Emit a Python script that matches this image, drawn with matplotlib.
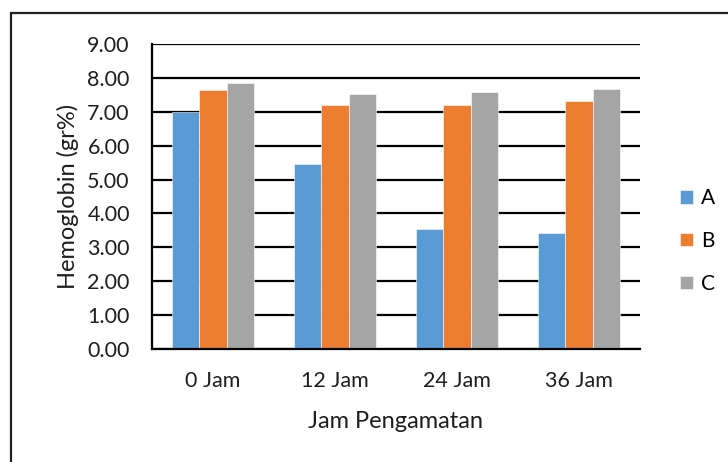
import numpy as np
import matplotlib.pyplot as plt
from matplotlib.patches import Rectangle

# Hemoglobin per observation time, three treatment groups
categories = ["0 Jam", "12 Jam", "24 Jam", "36 Jam"]
series_names = ["A", "B", "C"]
hb_a = [7.00, 5.46, 3.53, 3.42]
hb_b = [7.65, 7.21, 7.21, 7.32]
hb_c = [7.85, 7.51, 7.58, 7.66]
colors = ["#5B9BD5", "#ED7D31", "#A5A5A5"]
yticks = [0, 1, 2, 3, 4, 5, 6, 7, 8, 9]

plt.rcParams['font.family'] = ['Lato', 'DejaVu Sans']
txt = '#1e1e1e'

fig = plt.figure(figsize=(7.28, 4.62), dpi=100)
ax = fig.add_axes([152 / 728, 1 - 349 / 462, 488 / 728, 305 / 462])

x = np.arange(len(categories))
w = 0.222
for i, (vals, name, col) in enumerate(zip([hb_a, hb_b, hb_c], series_names, colors)):
    ax.bar(x + (i - 1) * w, vals, width=w, color=col, label=name,
           edgecolor='white', linewidth=0.4, zorder=3)

ax.set_xlim(-0.5, len(categories) - 0.5)
ax.set_ylim(0, 9)
ax.set_yticks(yticks)
ax.set_yticklabels([f"{v:.2f}" for v in yticks], fontsize=15.5, color=txt)
ax.set_xticks(x)
ax.set_xticklabels(categories, fontsize=15.5, color=txt)
ax.tick_params(axis='both', length=0)
ax.tick_params(axis='y', pad=16)
ax.tick_params(axis='x', pad=16)

ax.grid(axis='y', color='black', linewidth=1.6, zorder=1)
for s in ['top', 'right']:
    ax.spines[s].set_visible(False)
for s in ['left', 'bottom']:
    ax.spines[s].set_color('black')
    ax.spines[s].set_linewidth(1.6)
    ax.spines[s].set_zorder(4)

ax.set_xlabel("Jam Pengamatan", fontsize=17, color=txt, labelpad=14)
ax.set_ylabel("Hemoglobin (gr%)", fontsize=17, color=txt, labelpad=6)

fig.legend(*ax.get_legend_handles_labels(), loc='center left',
           bbox_to_anchor=(680 / 728, 1 - 241 / 462), frameon=False,
           fontsize=15, handlelength=0.62, handleheight=0.62, borderpad=0,
           borderaxespad=0, handletextpad=0.4, labelspacing=1.1)

# outer chart frame
fig.patches.append(Rectangle((11 / 728, -0.1), 1.2, 1.1 - 13 / 462,
                             transform=fig.transFigure, fill=False,
                             edgecolor='#222222', linewidth=1.6))

fig.savefig("out.png", dpi=100)
